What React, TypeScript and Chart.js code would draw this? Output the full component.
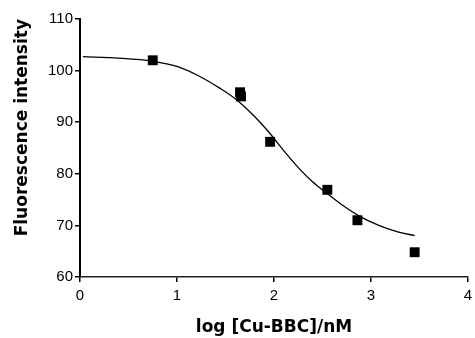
import React, { useEffect, useRef } from "react";
import { Chart, registerables } from "chart.js";

Chart.register(...registerables);

const pointX = [0.75, 1.65, 1.66, 1.96, 2.55, 2.86, 3.45];
const pointY = [102, 95.8, 95.0, 86.2, 76.9, 71.0, 64.8];

const curveX = [0.03, 0.4, 0.75, 1.0, 1.23, 1.44, 1.61, 1.8, 1.95, 2.1, 2.26, 2.4, 2.54, 2.7, 2.88, 3.08, 3.25, 3.45];
const curveY = [102.7, 102.4, 101.8, 100.8, 98.9, 96.6, 94.4, 91.1, 88.0, 84.5, 81.0, 78.4, 76.3, 74.0, 71.8, 70.0, 68.9, 68.0];

const xTicks = [0, 1, 2, 3, 4];
const yTicks = [60, 70, 80, 90, 100, 110];

const xTitle = "log [Cu-BBC]/nM";
const yTitle = "Fluorescence intensity";

export default function App() {
  const ref = useRef<HTMLCanvasElement | null>(null);
  useEffect(() => {
    if (!ref.current) return;
    const font = "'Liberation Sans', Arial, Helvetica, sans-serif";
    const titleFont = "'DejaVu Sans', sans-serif";
    const chart = new Chart(ref.current, {
      type: "scatter",
      data: {
        datasets: [
          {
            label: "fit",
            data: curveX.map((x, i) => ({ x, y: curveY[i] })),
            showLine: true,
            borderColor: "#000",
            borderWidth: 1.3,
            pointRadius: 0,
            cubicInterpolationMode: "monotone",
            fill: false,
          },
          {
            label: "data",
            data: pointX.map((x, i) => ({ x, y: pointY[i] })),
            showLine: false,
            pointStyle: "rect",
            pointRadius: 7,
            pointBorderWidth: 0,
            backgroundColor: "#000",
            borderColor: "#000",
          },
        ],
      },
      options: {
        animation: false,
        responsive: false,
        maintainAspectRatio: false,
        layout: { padding: { left: 0, right: 6, top: 19, bottom: 0 } },
        plugins: { legend: { display: false }, tooltip: { enabled: false } },
        scales: {
          x: {
            type: "linear",
            min: 0,
            max: 4,
            afterBuildTicks: (s: any) => {
              s.ticks = xTicks.map((v) => ({ value: v }));
            },
            afterFit: (s: any) => {
              s.height = 61;
              s.paddingRight = 0;
              s.paddingLeft = 0;
            },
            border: { display: true, color: "#222", width: 1.5 },
            grid: { display: true, drawOnChartArea: false, drawTicks: true, tickLength: 5, color: "#000", lineWidth: 1.5 },
            ticks: { color: "#000", font: { family: font, size: 15 }, padding: 5 },
            title: {
              display: true,
              text: xTitle,
              color: "#000",
              font: { family: titleFont, size: 17, weight: "bold" },
              padding: { top: 6, bottom: 0 },
            },
          },
          y: {
            type: "linear",
            min: 60,
            max: 110,
            afterBuildTicks: (s: any) => {
              s.ticks = yTicks.map((v) => ({ value: v }));
            },
            afterFit: (s: any) => {
              s.width = 80;
              s.paddingTop = 0;
              s.paddingBottom = 0;
            },
            border: { display: true, color: "#000", width: 2 },
            grid: { display: true, drawOnChartArea: false, drawTicks: true, tickLength: 5, color: "#000", lineWidth: 1.5 },
            ticks: { color: "#000", font: { family: font, size: 15 }, padding: 2 },
            title: {
              display: true,
              text: yTitle,
              align: "end",
              color: "#000",
              font: { family: titleFont, size: 17, weight: "bold" },
              padding: { top: 12, bottom: 0 },
            },
          },
        },
      },
    } as any);
    return () => chart.destroy();
  }, []);
  return (
    <div style={{ position: "absolute", left: 0, top: 0, width: 475, height: 338, background: "#fff" }}>
      <canvas ref={ref} width={475} height={338} style={{ width: 475, height: 338 }} />
    </div>
  );
}
